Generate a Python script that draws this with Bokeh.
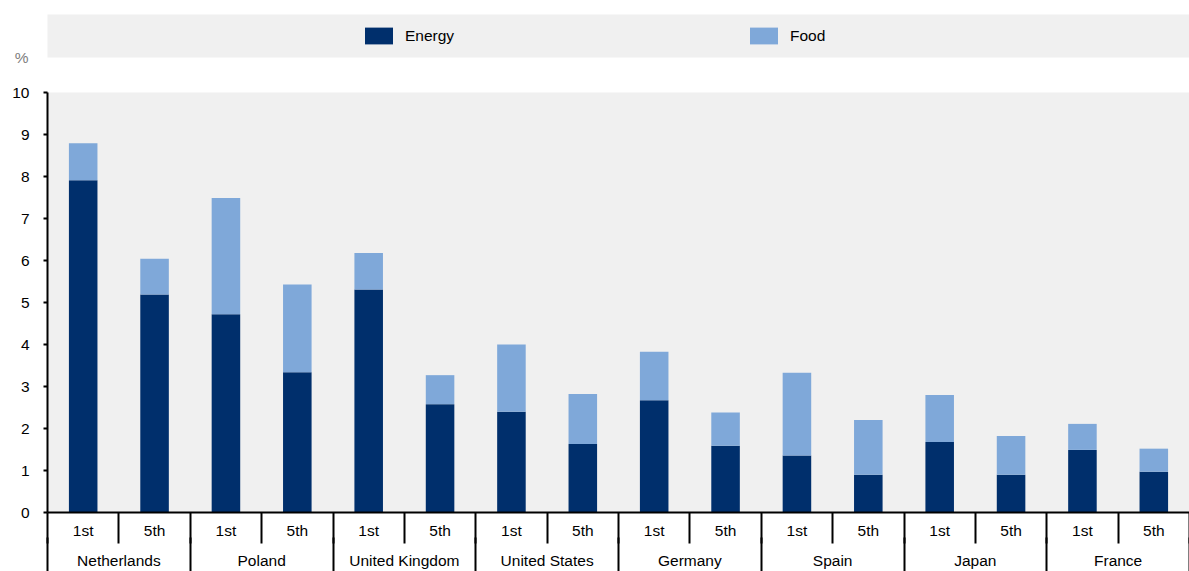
from bokeh.plotting import figure
from bokeh.layouts import column
from bokeh.models import (Range1d, LinearAxis, FixedTicker, Legend, LegendItem,
                          ColumnDataSource)
from bokeh.embed import file_html
from bokeh.resources import INLINE

# ---- data ----
countries = ["Netherlands", "Poland", "United Kingdom", "United States",
             "Germany", "Spain", "Japan", "France"]
quintiles = ["1st", "5th"]
series = ["Energy", "Food"]
energy = [7.91, 5.19, 4.72, 3.34, 5.31, 2.58, 2.40, 1.63,
          2.67, 1.59, 1.36, 0.90, 1.68, 0.90, 1.49, 0.97]
food = [0.88, 0.85, 2.77, 2.09, 0.87, 0.69, 1.60, 1.19,
        1.16, 0.79, 1.97, 1.30, 1.12, 0.92, 0.62, 0.55]
y_ticks = [0, 1, 2, 3, 4, 5, 6, 7, 8, 9, 10]
y_unit = "%"

FONT = "Liberation Sans"
FS = "15.5px"
C_ENERGY = "#002F6C"
C_FOOD = "#7FA8D9"
BG = "#F0F0F0"

labels = [q for c in countries for q in quintiles]
n = len(labels)
xpos = [i + 0.5 for i in range(n)]
src = ColumnDataSource(dict(x=xpos, energy=energy, food=food, label=labels))

# ---------------- legend band (top figure) ----------------
pl = figure(width=1189, height=66, output_backend="svg", toolbar_location=None,
            x_range=Range1d(0, 1), y_range=Range1d(0, 1),
            x_axis_type=None, y_axis_type=None,
            min_border_left=47, min_border_right=0, min_border_top=14,
            min_border_bottom=9)
pl.background_fill_color = BG
pl.border_fill_color = "white"
pl.outline_line_color = None
pl.xgrid.visible = False
pl.ygrid.visible = False

# hidden renderers that only serve as legend swatches
le = pl.vbar(x="x", top="energy", width=0.4, source=src, color=C_ENERGY,
             line_color=None, visible=False)
lf = pl.vbar(x="x", top="food", width=0.4, source=src, color=C_FOOD,
             line_color=None, visible=False)

legend = Legend(items=[LegendItem(label=series[0], renderers=[le], index=0),
                       LegendItem(label=series[1], renderers=[lf], index=0)],
                orientation="horizontal", location=(314, 11),
                glyph_width=35, glyph_height=21, label_standoff=9,
                label_width=60, label_height=21, spacing=281, padding=0, margin=0,
                background_fill_alpha=0, border_line_color=None,
                label_text_font=FONT, label_text_font_size=FS,
                label_text_color="black")
pl.add_layout(legend, "center")

# unit label "%" as the tick label of an otherwise invisible axis
uax = LinearAxis(ticker=FixedTicker(ticks=[0], minor_ticks=[]))
uax.major_label_overrides = {0: y_unit}
uax.axis_line_color = None
uax.major_tick_line_color = None
uax.major_tick_out = 0
uax.major_tick_in = 0
uax.major_label_standoff = 19
uax.major_label_text_font = FONT
uax.major_label_text_font_size = FS
uax.major_label_text_color = "#808080"
pl.add_layout(uax, "left")

# ---------------- main chart ----------------
p = figure(width=1189, height=505, output_backend="svg", toolbar_location=None,
           x_range=Range1d(0, n), y_range=Range1d(0, 10),
           x_axis_type=None, y_axis_type=None,
           min_border_left=46, min_border_right=0, min_border_top=26,
           min_border_bottom=57)
p.background_fill_color = BG
p.border_fill_color = "white"
p.outline_line_color = None

rs = p.vbar_stack(["energy", "food"], x="x", width=0.4, source=src,
                  color=[C_ENERGY, C_FOOD], line_color=None)

# y axis
yax = LinearAxis(ticker=FixedTicker(ticks=y_ticks, minor_ticks=[]))
yax.axis_line_color = "black"
yax.axis_line_width = 2
yax.major_tick_out = 4
yax.major_tick_in = 0
yax.major_tick_line_width = 2
yax.major_label_standoff = 14
yax.major_label_text_font = FONT
yax.major_label_text_font_size = FS
yax.major_label_text_color = "black"
p.add_layout(yax, "left")

# x axis: quintile labels, separators at every bar boundary
bounds = list(range(n + 1))
xa = LinearAxis(ticker=FixedTicker(ticks=xpos, minor_ticks=bounds))
xa.major_label_overrides = {x: l for x, l in zip(xpos, labels)}
xa.axis_line_color = "black"
xa.axis_line_width = 2
xa.major_tick_out = 0
xa.major_tick_in = 0
xa.major_tick_line_color = None
xa.minor_tick_out = 31
xa.minor_tick_in = 0
xa.minor_tick_line_color = "black"
xa.minor_tick_line_width = 2
xa.major_label_standoff = -22
xa.major_label_text_font = FONT
xa.major_label_text_font_size = FS
xa.major_label_text_color = "black"
p.add_layout(xa, "below")

# x axis: country labels, separators at country boundaries
ccent = [2 * i + 1 for i in range(len(countries))]
cb = [2 * i for i in range(len(countries) + 1)]
xb = LinearAxis(ticker=FixedTicker(ticks=ccent, minor_ticks=cb))
xb.major_label_overrides = {x: c for x, c in zip(ccent, countries)}
xb.axis_line_color = None
xb.major_tick_out = 0
xb.major_tick_in = 0
xb.major_tick_line_color = None
xb.minor_tick_out = 40
xb.minor_tick_in = 4
xb.minor_tick_line_color = "black"
xb.minor_tick_line_width = 2
xb.major_label_standoff = -30
xb.major_label_text_font = FONT
xb.major_label_text_font_size = FS
xb.major_label_text_color = "black"
p.add_layout(xb, "below")

# grids
p.xgrid.ticker = FixedTicker(ticks=bounds)
p.ygrid.ticker = FixedTicker(ticks=y_ticks)
for g in (p.xgrid, p.ygrid):
    g.grid_line_color = "white"
    g.grid_line_width = 2

layout = column(pl, p, spacing=0)
open("out.html", "w").write(file_html(layout, INLINE))
